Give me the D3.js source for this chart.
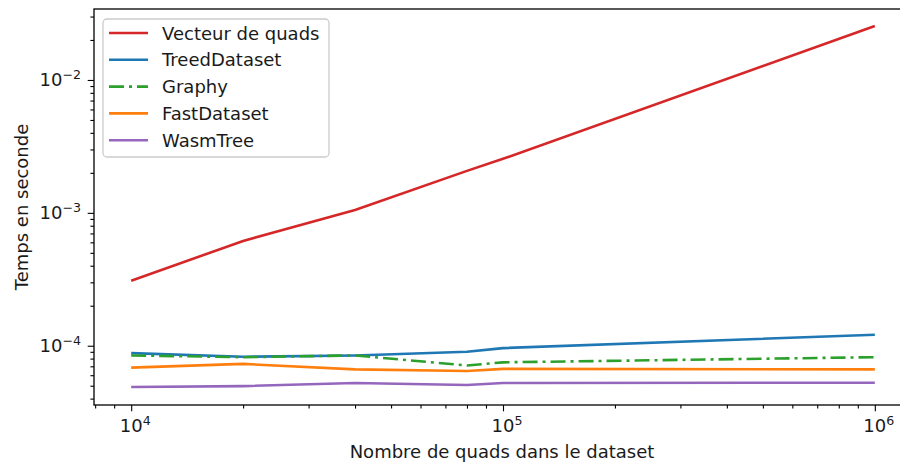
<!DOCTYPE html>
<html>
<head>
<meta charset="utf-8">
<script src="https://cdn.jsdelivr.net/npm/d3@7"></script>
<style>
  html, body { margin: 0; padding: 0; background: #fff; }
  svg { display: block; font-family: "DejaVu Sans", sans-serif; }
</style>
</head>
<body>
<svg id="chart" width="900" height="466"></svg>
<script>
// Dataset sizes (number of quads)
const sizes = [10000, 20000, 40000, 80000, 100000, 1000000];

// Query time in seconds for each implementation
const vecteurDeQuads = [3.08e-4, 6.15e-4, 1.05e-3, 2.07e-3, 2.55e-3, 2.55e-2];
const treedDataset   = [8.8e-5, 8.26e-5, 8.45e-5, 9.0e-5, 9.6e-5, 1.21e-4];
const graphy         = [8.45e-5, 8.2e-5, 8.45e-5, 7.1e-5, 7.5e-5, 8.2e-5];
const fastDataset    = [6.84e-5, 7.3e-5, 6.64e-5, 6.45e-5, 6.7e-5, 6.64e-5];
const wasmTree       = [4.89e-5, 4.97e-5, 5.24e-5, 5.06e-5, 5.24e-5, 5.27e-5];

const seriesNames  = ["Vecteur de quads", "TreedDataset", "Graphy", "FastDataset", "WasmTree"];
const seriesValues = [vecteurDeQuads, treedDataset, graphy, fastDataset, wasmTree];
const seriesColors = ["#d62728", "#1f77b4", "#2ca02c", "#ff7f0e", "#9467bd"];
const seriesDash   = [null, null, "15,5,3,5", null, null];

const xMajorExps = [4, 5, 6];
const yMajorExps = [-4, -3, -2];

const xLabel = "Nombre de quads dans le dataset";
const yLabel = "Temps en seconde";

const svg = d3.select("#chart");
const plotLeft = 94, plotRight = 912, plotTop = 9, plotBottom = 405;

const x = d3.scaleLog().domain([Math.pow(10, 3.9), Math.pow(10, 6.1)]).range([plotLeft, plotRight]);
const y = d3.scaleLog().domain([Math.pow(10, -4.446), Math.pow(10, -1.466)]).range([plotBottom, plotTop]);

const fontSize = 18;
const textColor = "#1a1a1a";
const spineW = 1.3;

// minor tick values within the visible domain
function minorTicks(scale) {
  const [d0, d1] = scale.domain();
  const out = [];
  for (let e = Math.floor(Math.log10(d0)); e <= Math.ceil(Math.log10(d1)); e++) {
    for (let m = 2; m <= 9; m++) {
      const v = m * Math.pow(10, e);
      if (v >= d0 && v <= d1) out.push(v);
    }
  }
  return out;
}

// data lines
const line = d3.line().x(d => x(d[0])).y(d => y(d[1]));
const plot = svg.append("g");
seriesValues.forEach((vals, i) => {
  plot.append("path")
    .datum(sizes.map((s, k) => [s, vals[k]]))
    .attr("d", line)
    .attr("fill", "none")
    .attr("stroke", seriesColors[i])
    .attr("stroke-width", 2.6)
    .attr("stroke-linejoin", "round")
    .attr("stroke-dasharray", seriesDash[i]);
});

// axes: major and minor ticks
function styleAxis(g) {
  g.select(".domain").remove();
  g.selectAll(".tick line").attr("stroke", "#000").attr("stroke-width", 1.1);
  g.selectAll(".tick text").remove();
}
svg.append("g").attr("transform", `translate(0,${plotBottom})`)
  .call(d3.axisBottom(x).tickValues(xMajorExps.map(e => Math.pow(10, e))).tickSize(6.3).tickFormat(""))
  .call(styleAxis);
svg.append("g").attr("transform", `translate(0,${plotBottom})`)
  .call(d3.axisBottom(x).tickValues(minorTicks(x)).tickSize(3.6).tickFormat(""))
  .call(styleAxis);
svg.append("g").attr("transform", `translate(${plotLeft},0)`)
  .call(d3.axisLeft(y).tickValues(yMajorExps.map(e => Math.pow(10, e))).tickSize(6.3).tickFormat(""))
  .call(styleAxis);
svg.append("g").attr("transform", `translate(${plotLeft},0)`)
  .call(d3.axisLeft(y).tickValues(minorTicks(y)).tickSize(3.6).tickFormat(""))
  .call(styleAxis);

// tick labels with superscript exponents
xMajorExps.forEach(e => {
  const t = svg.append("text")
    .attr("x", x(Math.pow(10, e)) + 4)
    .attr("y", 432)
    .attr("text-anchor", "middle")
    .attr("font-size", fontSize)
    .attr("fill", textColor);
  t.append("tspan").text("10");
  t.append("tspan").attr("dy", -7).attr("font-size", fontSize * 0.7).text(String(e));
});
yMajorExps.forEach(e => {
  const t = svg.append("text")
    .attr("x", plotLeft - 13)
    .attr("y", y(Math.pow(10, e)) + 6.5)
    .attr("text-anchor", "end")
    .attr("font-size", fontSize)
    .attr("fill", textColor);
  t.append("tspan").text("10");
  t.append("tspan").attr("dy", -7).attr("font-size", fontSize * 0.7).text("\u2212" + String(-e));
});

// spines
svg.append("rect")
  .attr("x", plotLeft).attr("y", plotTop)
  .attr("width", plotRight - plotLeft).attr("height", plotBottom - plotTop)
  .attr("fill", "none").attr("stroke", "#000").attr("stroke-width", spineW);

// axis labels
svg.append("text")
  .attr("x", 502)
  .attr("y", 458)
  .attr("text-anchor", "middle")
  .attr("font-size", fontSize)
  .attr("fill", textColor)
  .text(xLabel);
svg.append("text")
  .attr("transform", `translate(28,${(plotTop + plotBottom) / 2}) rotate(-90)`)
  .attr("text-anchor", "middle")
  .attr("font-size", fontSize)
  .attr("fill", textColor)
  .text(yLabel);

// legend
const lg = svg.append("g");
lg.append("rect")
  .attr("x", 103).attr("y", 19)
  .attr("width", 226).attr("height", 138)
  .attr("rx", 4)
  .attr("fill", "#fff").attr("fill-opacity", 0.8)
  .attr("stroke", "#cccccc").attr("stroke-width", 1.3);
seriesNames.forEach((name, i) => {
  const ly = 33 + i * 26.8;
  lg.append("line")
    .attr("x1", 109).attr("x2", 148)
    .attr("y1", ly).attr("y2", ly)
    .attr("stroke", seriesColors[i])
    .attr("stroke-width", 2.6)
    .attr("stroke-dasharray", seriesDash[i]);
  lg.append("text")
    .attr("x", 162).attr("y", ly + 6.5)
    .attr("font-size", fontSize)
    .attr("fill", textColor)
    .text(name);
});
</script>
</body>
</html>
